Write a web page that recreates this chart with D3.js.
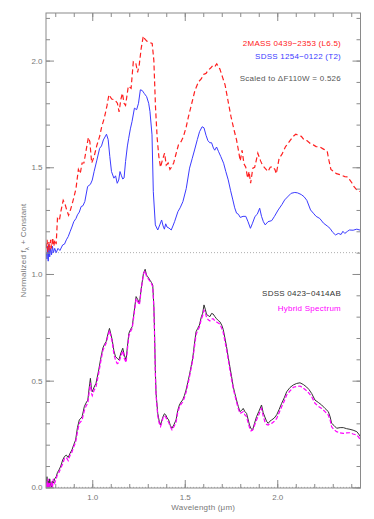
<!DOCTYPE html>
<meta charset="utf-8">
<html>
  <head>
  <title>Spectra</title>
    <style>
      body {
        margin: 0;
        background: #fff;
        font-family: 'Liberation Sans', sans-serif;
      }
      .axis-title {
        font-size: 8px;
        fill: #777;
        letter-spacing: 0.2px;
      }
      .note {
        font-size: 8px;
        letter-spacing: 0.25px;
      }
    </style>
  </head>
  <body>
<div id="chart"></div>

<script src="https://cdn.jsdelivr.net/npm/d3@7"></script>
<script>

// constant added to the top pair of spectra
var OFFSET = 1.1;

// 2MASS 0439-2353 (L6.5), [wavelength um, normalized flux]
var redSpec = [[0.752,0.02],[0.756,0.06],[0.760,0.00],[0.765,0.05],[0.770,0.01],[0.775,0.06],[0.780,0.02],[0.786,0.07],[0.792,0.03],[0.798,0.06],[0.805,0.04],[0.812,0.16],[0.822,0.15],[0.832,0.20],[0.843,0.245],[0.852,0.23],[0.862,0.20],[0.872,0.175],[0.882,0.20],[0.892,0.23],[0.901,0.26],[0.912,0.30],[0.925,0.39],[0.935,0.37],[0.945,0.42],[0.955,0.42],[0.965,0.47],[0.979,0.54],[0.987,0.52],[0.997,0.42],[1.010,0.45],[1.024,0.50],[1.040,0.545],[1.051,0.59],[1.065,0.63],[1.080,0.69],[1.090,0.74],[1.105,0.72],[1.123,0.715],[1.136,0.70],[1.145,0.66],[1.155,0.72],[1.163,0.747],[1.172,0.70],[1.180,0.69],[1.195,0.78],[1.210,0.77],[1.222,0.895],[1.235,0.89],[1.245,0.845],[1.254,0.88],[1.265,0.96],[1.276,1.015],[1.285,1.00],[1.297,0.99],[1.310,0.985],[1.324,0.98],[1.333,0.90],[1.342,0.68],[1.351,0.536],[1.360,0.45],[1.369,0.40],[1.378,0.43],[1.391,0.466],[1.400,0.41],[1.410,0.42],[1.420,0.39],[1.428,0.40],[1.440,0.42],[1.452,0.46],[1.466,0.505],[1.480,0.52],[1.493,0.544],[1.508,0.59],[1.520,0.637],[1.538,0.70],[1.555,0.76],[1.574,0.80],[1.590,0.815],[1.601,0.835],[1.615,0.84],[1.627,0.855],[1.640,0.865],[1.654,0.88],[1.665,0.875],[1.673,0.885],[1.690,0.86],[1.705,0.82],[1.718,0.786],[1.732,0.72],[1.750,0.637],[1.765,0.58],[1.780,0.528],[1.790,0.48],[1.800,0.43],[1.810,0.48],[1.820,0.416],[1.830,0.40],[1.840,0.349],[1.848,0.38],[1.856,0.325],[1.868,0.396],[1.878,0.40],[1.886,0.43],[1.895,0.466],[1.910,0.43],[1.920,0.41],[1.930,0.40],[1.950,0.38],[1.962,0.40],[1.975,0.403],[1.987,0.39],[1.995,0.37],[2.010,0.442],[2.025,0.46],[2.045,0.497],[2.065,0.52],[2.085,0.544],[2.100,0.555],[2.115,0.55],[2.130,0.545],[2.145,0.528],[2.160,0.525],[2.180,0.51],[2.195,0.505],[2.210,0.497],[2.230,0.495],[2.250,0.485],[2.270,0.475],[2.280,0.43],[2.290,0.39],[2.305,0.38],[2.320,0.37],[2.340,0.365],[2.365,0.356],[2.380,0.355],[2.393,0.34],[2.405,0.325],[2.415,0.309],[2.430,0.294],[2.440,0.29],[2.450,0.285]];

// SDSS 1254-0122 (T2), scaled
var blueSpec = [[0.752,0.00],[0.755,-0.03],[0.758,0.03],[0.762,-0.04],[0.766,0.04],[0.770,-0.02],[0.775,0.02],[0.780,-0.01],[0.785,0.03],[0.790,0.00],[0.797,0.02],[0.805,0.00],[0.815,0.02],[0.825,0.01],[0.840,0.036],[0.850,0.04],[0.860,0.06],[0.870,0.075],[0.880,0.098],[0.890,0.12],[0.900,0.145],[0.912,0.16],[0.920,0.177],[0.930,0.19],[0.940,0.216],[0.950,0.22],[0.960,0.24],[0.975,0.31],[0.990,0.32],[1.000,0.34],[1.010,0.38],[1.024,0.43],[1.040,0.489],[1.050,0.50],[1.060,0.528],[1.077,0.555],[1.086,0.53],[1.095,0.45],[1.104,0.38],[1.117,0.349],[1.126,0.36],[1.135,0.325],[1.143,0.34],[1.150,0.38],[1.158,0.36],[1.165,0.345],[1.172,0.35],[1.180,0.427],[1.190,0.50],[1.197,0.536],[1.206,0.58],[1.215,0.614],[1.228,0.677],[1.240,0.67],[1.250,0.70],[1.260,0.763],[1.270,0.76],[1.282,0.745],[1.294,0.731],[1.305,0.70],[1.312,0.661],[1.323,0.552],[1.330,0.286],[1.341,0.13],[1.354,0.106],[1.365,0.13],[1.375,0.153],[1.383,0.125],[1.390,0.11],[1.397,0.135],[1.404,0.12],[1.415,0.115],[1.427,0.106],[1.436,0.125],[1.445,0.145],[1.463,0.192],[1.475,0.21],[1.490,0.239],[1.508,0.30],[1.526,0.396],[1.540,0.44],[1.553,0.481],[1.568,0.53],[1.580,0.567],[1.594,0.59],[1.604,0.585],[1.615,0.55],[1.625,0.525],[1.635,0.515],[1.645,0.515],[1.655,0.49],[1.662,0.48],[1.672,0.495],[1.682,0.475],[1.695,0.45],[1.710,0.419],[1.722,0.38],[1.735,0.341],[1.748,0.29],[1.760,0.247],[1.770,0.21],[1.780,0.185],[1.790,0.18],[1.800,0.165],[1.815,0.17],[1.830,0.17],[1.842,0.145],[1.855,0.114],[1.865,0.135],[1.880,0.17],[1.892,0.18],[1.905,0.208],[1.915,0.17],[1.925,0.145],[1.935,0.13],[1.950,0.145],[1.970,0.15],[1.985,0.17],[2.005,0.20],[2.025,0.225],[2.040,0.247],[2.060,0.265],[2.075,0.278],[2.095,0.282],[2.110,0.28],[2.130,0.272],[2.145,0.262],[2.160,0.245],[2.180,0.20],[2.195,0.185],[2.210,0.17],[2.230,0.16],[2.250,0.138],[2.270,0.125],[2.285,0.114],[2.300,0.095],[2.315,0.083],[2.330,0.09],[2.345,0.085],[2.355,0.10],[2.365,0.09],[2.380,0.10],[2.390,0.106],[2.410,0.105],[2.430,0.11],[2.450,0.105]];

// SDSS 0423-0414AB
var blackSpec = [[0.752,0.01],[0.755,0.05],[0.758,-0.01],[0.762,0.03],[0.766,0.00],[0.770,0.04],[0.775,0.01],[0.780,0.00],[0.785,0.03],[0.790,0.02],[0.797,0.04],[0.805,0.05],[0.812,0.07],[0.820,0.081],[0.830,0.10],[0.840,0.128],[0.850,0.145],[0.860,0.151],[0.870,0.14],[0.880,0.16],[0.890,0.175],[0.900,0.20],[0.910,0.222],[0.920,0.28],[0.930,0.316],[0.945,0.33],[0.957,0.378],[0.966,0.395],[0.976,0.409],[0.984,0.47],[0.990,0.511],[0.996,0.46],[1.000,0.448],[1.010,0.47],[1.020,0.487],[1.035,0.55],[1.045,0.60],[1.057,0.652],[1.066,0.67],[1.075,0.683],[1.085,0.72],[1.093,0.745],[1.100,0.72],[1.108,0.69],[1.117,0.64],[1.126,0.612],[1.135,0.605],[1.144,0.597],[1.155,0.63],[1.165,0.652],[1.173,0.62],[1.183,0.597],[1.190,0.66],[1.198,0.722],[1.207,0.74],[1.216,0.753],[1.226,0.82],[1.237,0.894],[1.246,0.88],[1.255,0.862],[1.266,0.94],[1.277,1.003],[1.286,1.022],[1.293,0.995],[1.300,0.987],[1.313,0.97],[1.320,0.96],[1.327,0.948],[1.333,0.85],[1.336,0.753],[1.341,0.55],[1.345,0.44],[1.354,0.347],[1.362,0.31],[1.369,0.292],[1.375,0.31],[1.382,0.33],[1.390,0.345],[1.397,0.34],[1.405,0.325],[1.413,0.316],[1.422,0.29],[1.431,0.277],[1.442,0.295],[1.453,0.316],[1.462,0.36],[1.471,0.386],[1.480,0.40],[1.489,0.41],[1.498,0.43],[1.507,0.456],[1.516,0.49],[1.525,0.526],[1.534,0.565],[1.543,0.605],[1.552,0.67],[1.561,0.729],[1.570,0.745],[1.579,0.76],[1.590,0.80],[1.597,0.816],[1.604,0.855],[1.611,0.835],[1.618,0.81],[1.627,0.805],[1.636,0.80],[1.645,0.815],[1.654,0.812],[1.663,0.80],[1.672,0.79],[1.681,0.782],[1.690,0.776],[1.700,0.76],[1.708,0.74],[1.717,0.70],[1.726,0.659],[1.735,0.61],[1.744,0.565],[1.753,0.52],[1.762,0.472],[1.771,0.44],[1.780,0.409],[1.789,0.38],[1.798,0.355],[1.807,0.36],[1.816,0.37],[1.825,0.355],[1.834,0.347],[1.842,0.32],[1.850,0.292],[1.858,0.275],[1.867,0.269],[1.877,0.30],[1.888,0.331],[1.900,0.355],[1.915,0.386],[1.924,0.35],[1.933,0.33],[1.942,0.31],[1.951,0.30],[1.960,0.31],[1.970,0.316],[1.984,0.325],[1.997,0.34],[2.010,0.365],[2.024,0.394],[2.038,0.42],[2.051,0.448],[2.069,0.468],[2.087,0.48],[2.105,0.487],[2.123,0.49],[2.141,0.482],[2.159,0.47],[2.172,0.458],[2.186,0.44],[2.204,0.409],[2.222,0.398],[2.240,0.386],[2.258,0.37],[2.276,0.355],[2.286,0.33],[2.294,0.30],[2.307,0.29],[2.321,0.277],[2.340,0.28],[2.357,0.28],[2.375,0.275],[2.393,0.272],[2.410,0.268],[2.430,0.261],[2.440,0.25],[2.450,0.237]];

// Hybrid spectrum
var hybridSpec = [[0.752,0.00],[0.755,0.03],[0.758,-0.01],[0.762,0.04],[0.766,0.00],[0.770,0.02],[0.775,-0.01],[0.780,0.03],[0.785,0.00],[0.790,0.04],[0.797,0.02],[0.805,0.04],[0.812,0.06],[0.820,0.07],[0.830,0.09],[0.840,0.11],[0.850,0.135],[0.860,0.14],[0.870,0.125],[0.880,0.15],[0.890,0.165],[0.900,0.19],[0.910,0.21],[0.920,0.26],[0.930,0.30],[0.945,0.315],[0.957,0.36],[0.966,0.38],[0.976,0.395],[0.984,0.45],[0.990,0.49],[0.996,0.44],[1.000,0.43],[1.010,0.455],[1.020,0.47],[1.035,0.535],[1.045,0.585],[1.057,0.64],[1.066,0.66],[1.075,0.675],[1.085,0.71],[1.093,0.735],[1.100,0.71],[1.108,0.68],[1.117,0.625],[1.126,0.595],[1.135,0.58],[1.144,0.585],[1.155,0.615],[1.165,0.64],[1.173,0.605],[1.183,0.585],[1.190,0.645],[1.198,0.71],[1.207,0.73],[1.216,0.745],[1.226,0.81],[1.237,0.885],[1.246,0.87],[1.255,0.855],[1.266,0.935],[1.277,1.0],[1.286,1.015],[1.293,0.99],[1.300,0.98],[1.313,0.965],[1.320,0.955],[1.327,0.94],[1.333,0.84],[1.336,0.74],[1.341,0.53],[1.345,0.43],[1.354,0.335],[1.362,0.30],[1.369,0.285],[1.375,0.30],[1.382,0.325],[1.390,0.335],[1.397,0.33],[1.405,0.315],[1.413,0.305],[1.422,0.285],[1.431,0.27],[1.442,0.285],[1.453,0.305],[1.462,0.35],[1.471,0.375],[1.480,0.39],[1.489,0.40],[1.498,0.42],[1.507,0.445],[1.516,0.48],[1.525,0.515],[1.534,0.555],[1.543,0.595],[1.552,0.655],[1.561,0.715],[1.570,0.735],[1.579,0.75],[1.590,0.79],[1.597,0.805],[1.604,0.83],[1.611,0.82],[1.618,0.795],[1.627,0.785],[1.636,0.78],[1.645,0.79],[1.654,0.79],[1.663,0.78],[1.672,0.775],[1.681,0.77],[1.690,0.765],[1.700,0.745],[1.708,0.725],[1.717,0.685],[1.726,0.644],[1.735,0.60],[1.744,0.55],[1.753,0.505],[1.762,0.464],[1.771,0.43],[1.780,0.40],[1.789,0.37],[1.798,0.347],[1.807,0.35],[1.816,0.355],[1.825,0.34],[1.834,0.331],[1.842,0.305],[1.850,0.28],[1.858,0.265],[1.867,0.269],[1.877,0.29],[1.888,0.316],[1.900,0.34],[1.915,0.37],[1.924,0.335],[1.933,0.308],[1.942,0.295],[1.951,0.292],[1.960,0.298],[1.970,0.30],[1.984,0.31],[1.997,0.323],[2.010,0.35],[2.024,0.378],[2.038,0.405],[2.051,0.433],[2.069,0.452],[2.087,0.469],[2.105,0.473],[2.123,0.475],[2.141,0.465],[2.159,0.453],[2.172,0.44],[2.186,0.425],[2.204,0.394],[2.222,0.38],[2.240,0.37],[2.258,0.355],[2.276,0.339],[2.286,0.315],[2.294,0.284],[2.307,0.27],[2.321,0.261],[2.340,0.255],[2.357,0.253],[2.375,0.255],[2.393,0.256],[2.410,0.25],[2.430,0.245],[2.440,0.235],[2.450,0.222]];

var xMajor = [1.0, 1.5, 2.0];
var yMajor = [0.0, 0.5, 1.0, 1.5, 2.0];
var baselines = [0.0, OFFSET];

var width = 374, height = 519;
// plot frame edges (not "top": that name is taken by window.top)
var pL = 46, pR = 360.5, pT = 13, pB = 488;

var x = d3.scaleLinear().domain([0.75, 2.45]).range([pL, pR]);
var y = d3.scaleLinear().domain([-0.003, 2.223]).range([pB, pT]);

var svg = d3.select("#chart").append("svg")
    .attr("width", width)
    .attr("height", height);

svg.append("defs").append("clipPath").attr("id", "clip")
  .append("rect")
    .attr("x", pL).attr("y", pT)
    .attr("width", pR - pL).attr("height", pB - pT);

// dotted zero lines
svg.selectAll(".base")
  .data(baselines).enter()
  .append("line")
    .attr("class", "base")
    .attr("x1", pL).attr("x2", pR)
    .attr("y1", function(d){ return y(d); })
    .attr("y2", function(d){ return y(d); })
    .style("stroke", "#999")
    .style("stroke-width", 0.8)
    .style("stroke-dasharray", "1,2");

var line = d3.line()
    .x(function(d){ return x(d[0]); })
    .y(function(d){ return y(d[1]); });

var lineUp = d3.line()
    .x(function(d){ return x(d[0]); })
    .y(function(d){ return y(d[1] + OFFSET); });

var plot = svg.append("g").attr("clip-path", "url(#clip)");

plot.append("path").datum(blueSpec)
    .attr("d", lineUp)
    .style("fill", "none").style("stroke", "#3b3bff").style("stroke-width", 1);

plot.append("path").datum(redSpec)
    .attr("d", lineUp)
    .style("fill", "none").style("stroke", "#ff2020").style("stroke-width", 1.2)
    .style("stroke-dasharray", "5,3");

plot.append("path").datum(blackSpec)
    .attr("d", line)
    .style("fill", "none").style("stroke", "#333").style("stroke-width", 1);

plot.append("path").datum(hybridSpec)
    .attr("d", line)
    .style("fill", "none").style("stroke", "#ff00ff").style("stroke-width", 1.2)
    .style("stroke-dasharray", "4,2");

// axes, ticks on all four sides
var axisColor = "#8a8a8a";
function styleAxis(g) {
  g.select(".domain").remove();
  g.selectAll("line").style("stroke", axisColor);
  g.selectAll("text").style("font-size", "8px").style("fill", "#777")
    .style("font-family", "'Liberation Sans', sans-serif");
}

var xMinor = d3.range(8, 25).map(function(d){ return d / 10; });
var yMinor = d3.range(0, 23).map(function(d){ return d / 10; });

svg.append("g").attr("transform", "translate(0," + pB + ")")
  .call(d3.axisBottom(x).tickValues(xMinor).tickSize(-4).tickFormat(""))
  .call(styleAxis);
svg.append("g").attr("transform", "translate(0," + pB + ")")
  .call(d3.axisBottom(x).tickValues(xMajor).tickSize(-8).tickPadding(6).tickFormat(d3.format(".1f")))
  .call(styleAxis);
svg.append("g").attr("transform", "translate(0," + pT + ")")
  .call(d3.axisTop(x).tickValues(xMinor).tickSize(-4).tickFormat(""))
  .call(styleAxis);
svg.append("g").attr("transform", "translate(0," + pT + ")")
  .call(d3.axisTop(x).tickValues(xMajor).tickSize(-8).tickFormat(""))
  .call(styleAxis);

svg.append("g").attr("transform", "translate(" + pL + ",0)")
  .call(d3.axisLeft(y).tickValues(yMinor).tickSize(-4).tickFormat(""))
  .call(styleAxis);
svg.append("g").attr("transform", "translate(" + pL + ",0)")
  .call(d3.axisLeft(y).tickValues(yMajor).tickSize(-8).tickPadding(3.5).tickFormat(d3.format(".1f")))
  .call(styleAxis);
svg.append("g").attr("transform", "translate(" + pR + ",0)")
  .call(d3.axisRight(y).tickValues(yMinor).tickSize(-4).tickFormat(""))
  .call(styleAxis);
svg.append("g").attr("transform", "translate(" + pR + ",0)")
  .call(d3.axisRight(y).tickValues(yMajor).tickSize(-8).tickFormat(""))
  .call(styleAxis);

// frame
svg.append("rect")
    .attr("x", pL).attr("y", pT)
    .attr("width", pR - pL).attr("height", pB - pT)
    .style("fill", "none").style("stroke", axisColor).style("stroke-width", 1);

// axis titles
svg.append("text")
    .attr("class", "axis-title")
    .attr("x", (pL + pR) / 2).attr("y", 509.5)
    .attr("text-anchor", "middle")
    .text("Wavelength (\u03bcm)");

var yt = svg.append("text")
    .attr("class", "axis-title")
    .attr("transform", "translate(26," + ((pT + pB) / 2) + ") rotate(-90)")
    .attr("text-anchor", "middle");
yt.append("tspan").text("Normalized f");
yt.append("tspan").attr("baseline-shift", "sub").style("font-size", "6px").text("\u03bb");
yt.append("tspan").text(" + Constant");

// labels
var notes = [
  {t: "2MASS 0439\u22122353 (L6.5)", y: 46, c: "#ff2020"},
  {t: "SDSS 1254\u22120122 (T2)", y: 58.5, c: "#3b3bff"},
  {t: "Scaled to \u0394F110W = 0.526", y: 81, c: "#555"},
  {t: "SDSS 0423\u22120414AB", y: 296, c: "#333"},
  {t: "Hybrid Spectrum", y: 311, c: "#ff00ff"}
];
svg.selectAll(".note")
  .data(notes).enter()
  .append("text")
    .attr("class", "note")
    .attr("x", 341)
    .attr("y", function(d){ return d.y; })
    .attr("text-anchor", "end")
    .style("fill", function(d){ return d.c; })
    .text(function(d){ return d.t; });

</script>
  </body>
</html>
